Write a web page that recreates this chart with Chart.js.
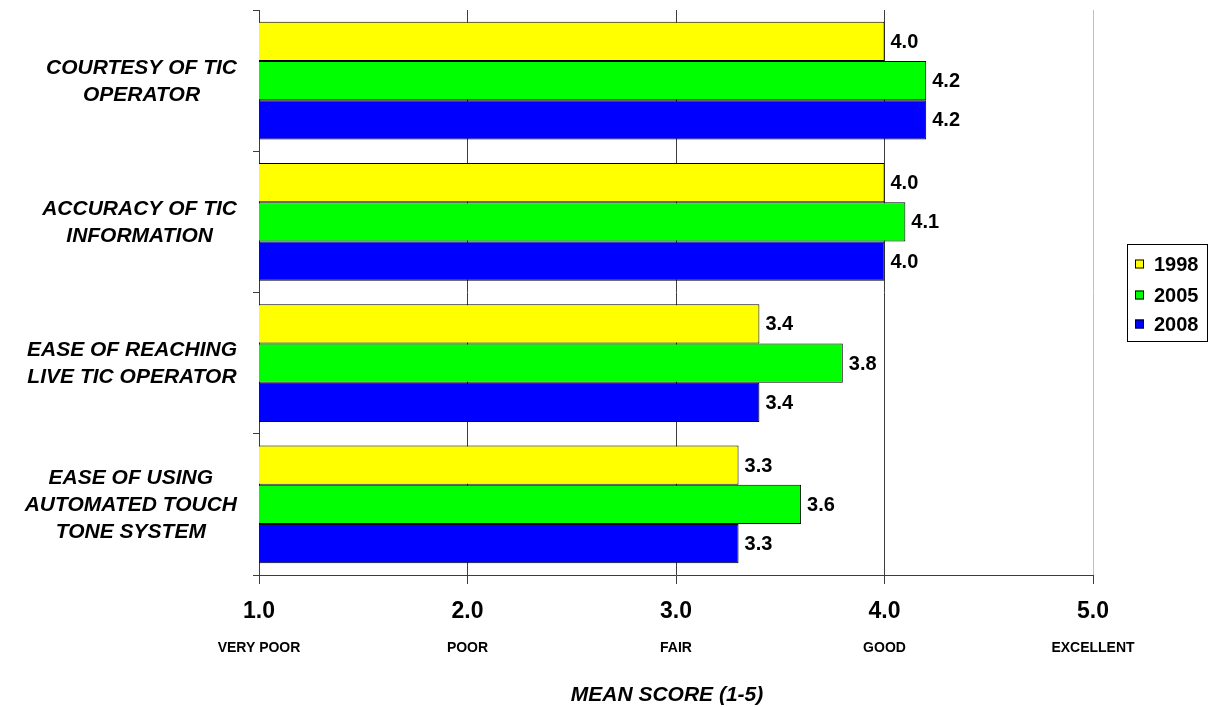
<!DOCTYPE html>
<html>
<head>
<meta charset="utf-8">
<script src="https://cdn.jsdelivr.net/npm/chart.js@4.4.1/dist/chart.umd.min.js"></script>
<style>
  html, body { margin: 0; padding: 0; background: #ffffff; }
  #wrap { width: 1208px; height: 707px; }
</style>
</head>
<body>
<div id="wrap"><canvas id="c" width="1208" height="707"></canvas></div>
<script>
// Survey items (each entry holds the text lines of one label)
const categories = [
  ['COURTESY OF TIC', 'OPERATOR'],
  ['ACCURACY OF TIC', 'INFORMATION'],
  ['EASE OF REACHING', 'LIVE TIC OPERATOR'],
  ['EASE OF USING', 'AUTOMATED TOUCH', 'TONE SYSTEM']
];
const seriesNames = ['1998', '2005', '2008'];
const values1998 = [4.0, 4.0, 3.4, 3.3];
const values2005 = [4.2, 4.1, 3.8, 3.6];
const values2008 = [4.2, 4.0, 3.4, 3.3];
const scaleValues = [1, 2, 3, 4, 5];
const scaleNames = ['VERY POOR', 'POOR', 'FAIR', 'GOOD', 'EXCELLENT'];
const axisTitle = 'MEAN SCORE (1-5)';
const seriesColors = ['#FFFF00', '#00FF00', '#0000FF'];

const FONT = '"Liberation Sans", Arial, sans-serif';
const AXIS_DARK = '#3c3c3c';

// Draws the item labels, value labels, scale names, axis title and legend
const annotations = {
  id: 'annotations',
  afterDraw(chart) {
    const ctx = chart.ctx;
    const xs = chart.scales.x;
    const ys = chart.scales.y;
    ctx.save();
    ctx.fillStyle = '#000';

    // item labels on the left: lines centred within their block, block right-aligned
    ctx.font = 'italic bold 21px ' + FONT;
    ctx.textBaseline = 'middle';
    ctx.textAlign = 'center';
    const lineH = 27;
    categories.forEach((lines, i) => {
      const cy = ys.getPixelForValue(i) + 1;
      const blockW = Math.max(...lines.map(l => ctx.measureText(l).width));
      const cx = 237 - blockW / 2;
      const y0 = cy - (lines.length - 1) * lineH / 2;
      lines.forEach((l, k) => ctx.fillText(l, cx, y0 + k * lineH));
    });

    // value labels at the bar ends
    ctx.font = 'bold 20px ' + FONT;
    ctx.textAlign = 'left';
    chart.data.datasets.forEach((ds, di) => {
      const meta = chart.getDatasetMeta(di);
      meta.data.forEach((bar, i) => {
        ctx.fillText(ds.data[i].toFixed(1), bar.x + 6, bar.y + 1);
      });
    });

    // scale numbers and their verbal anchors
    ctx.textAlign = 'center';
    scaleValues.forEach((v, i) => {
      const x = xs.getPixelForValue(v);
      ctx.font = 'bold 23px ' + FONT;
      ctx.fillText(v.toFixed(1), x, 612);
      ctx.font = 'bold 14px ' + FONT;
      ctx.fillText(scaleNames[i], x, 648);
    });

    // axis title
    ctx.font = 'italic bold 21px ' + FONT;
    ctx.fillText(axisTitle, 667, 695);

    // legend
    const lx = 1127, ly = 244, lw = 80, lh = 97;
    ctx.strokeStyle = '#000';
    ctx.lineWidth = 1;
    ctx.strokeRect(lx + 0.5, ly + 0.5, lw, lh);
    const rows = [264, 295, 324];
    ctx.font = 'bold 20px ' + FONT;
    ctx.textAlign = 'left';
    seriesNames.forEach((name, i) => {
      const cy = rows[i];
      ctx.fillStyle = seriesColors[i];
      ctx.fillRect(1135, cy - 4.5, 9, 9);
      ctx.strokeStyle = '#000';
      ctx.strokeRect(1135.5, cy - 4.5 + 0.5, 8, 8);
      ctx.fillStyle = '#000';
      ctx.fillText(name, 1154, cy + 1);
    });
    ctx.restore();
  }
};

const seriesValues = [values1998, values2005, values2008];

new Chart(document.getElementById('c'), {
  type: 'bar',
  data: {
    labels: categories.map(l => l.join(' ')),
    datasets: seriesNames.map((name, i) => ({
      label: name,
      data: seriesValues[i],
      backgroundColor: seriesColors[i],
      borderColor: '#000000',
      borderWidth: 1,
      borderSkipped: false,
      categoryPercentage: 0.835,
      barPercentage: 1.0
    }))
  },
  options: {
    indexAxis: 'y',
    responsive: false,
    animation: false,
    devicePixelRatio: 1,
    layout: { padding: { left: 0, right: 115, top: 10, bottom: 0 } },
    plugins: {
      legend: { display: false },
      tooltip: { enabled: false }
    },
    scales: {
      x: {
        type: 'linear',
        min: 1,
        max: 5,
        ticks: { stepSize: 1, display: false },
        grid: {
          color: c => (c.tick && c.tick.value === 5) ? '#c0c0c0' : AXIS_DARK,
          tickColor: AXIS_DARK,
          tickLength: 9,
          lineWidth: 1
        },
        border: { display: true, color: AXIS_DARK, width: 1 },
        afterFit: s => { s.height = 132; }
      },
      y: {
        type: 'category',
        ticks: { display: false },
        grid: {
          offset: true,
          drawOnChartArea: false,
          drawTicks: true,
          tickLength: 6,
          tickColor: AXIS_DARK
        },
        border: { display: true, color: AXIS_DARK, width: 1 },
        afterFit: s => { s.width = 259; }
      }
    }
  },
  plugins: [annotations]
});
</script>
</body>
</html>
